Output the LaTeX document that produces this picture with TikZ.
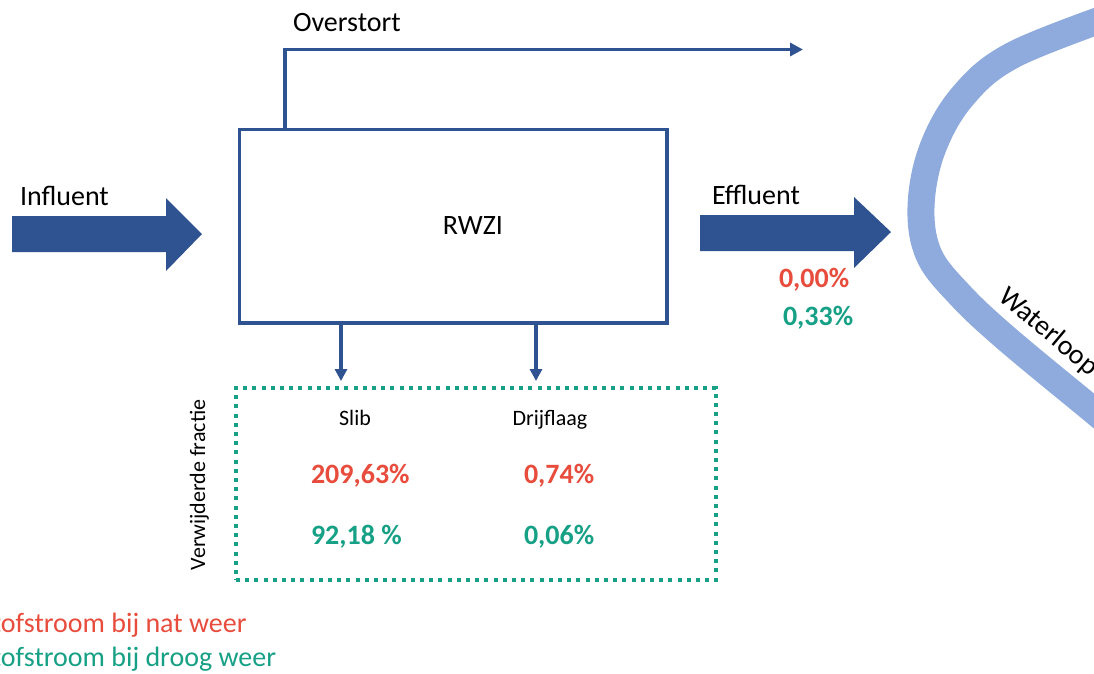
\documentclass[tikz,border=0pt]{standalone}
\usepackage{fontspec}
\setmainfont{Carlito}
\usetikzlibrary{arrows.meta}
\definecolor{navy}{HTML}{2F5290}
\definecolor{river}{HTML}{8FAADC}
\definecolor{wetred}{HTML}{E74C3C}
\definecolor{drygreen}{HTML}{16A085}
\begin{document}
\begin{tikzpicture}[x=1pt,y=-1pt,
  lbl/.style={font=\fontsize{28}{32}\selectfont, inner sep=0pt, outer sep=0pt},
  smalllbl/.style={font=\fontsize{22}{26}\selectfont, inner sep=0pt, outer sep=0pt},
  pct/.style={font=\fontsize{28}{32}\selectfont\bfseries, inner sep=0pt, outer sep=0pt},
  conn/.style={draw=navy, line width=3.75pt, -{Triangle[length=12pt,width=12pt]}},
  bigarrow/.style={fill=navy},
  plantbox/.style={draw=navy, line width=3.75pt, inner sep=0pt, outer sep=0pt,
    minimum width=427.5pt, minimum height=193.5pt},
  fracbox/.style={draw=drygreen, line width=4pt, dash pattern=on 4pt off 5.2pt,
    inner sep=0pt, outer sep=0pt, minimum width=480pt, minimum height=192pt},
]
\path[use as bounding box] (0,0) rectangle (1094,673);
\clip (0,0) rectangle (1094,673);

% river
\draw[river, line width=27pt] plot[smooth, tension=0.6] coordinates
  {(1120,13) (1013,55) (962,97) (932,150) (921,207) (929,255) (960,295) (1007,339) (1094,411) (1125,437)};
\node[lbl, rotate=-40, anchor=base west] (waterloop) at (997,299) {Waterloop};

% big arrows
\fill[bigarrow] (12,216) -- (166,216) -- (166,198) -- (202,234) -- (166,271) -- (166,252) -- (12,252) -- cycle;
\fill[bigarrow] (700,215) -- (854,215) -- (854,197) -- (891,232) -- (854,268) -- (854,251) -- (700,251) -- cycle;
\node[lbl, anchor=base west] (influent) at (20,205) {Influent};
\node[lbl, anchor=base west] (effluent) at (712,204) {Effluent};

% plant
\node[plantbox] (rwzi) at (453.25,226.25) {};
\node[lbl] (rwzitext) at (473,226) {RWZI};

% overstort
\coordinate (ovend) at (803,49.5);
\draw[conn, -{Triangle[length=13pt,width=13pt]}] ([xshift=45.5pt]rwzi.north west) |- (ovend);
\node[lbl, anchor=base west] (overstort) at (293,31) {Overstort};

% effluent fractions
\node[pct, text=wetred, anchor=base west] (effwet) at (779,287) {0,00\%};
\node[pct, text=drygreen, anchor=base west] (effdry) at (783,325) {0,33\%};

% removed fraction box
\node[fracbox] (frac) at (476,484) {};
\coordinate (slibin) at (341,381);
\coordinate (drijfin) at (536,381);
\draw[conn] (rwzi.south -| slibin) -- (slibin);
\draw[conn] (rwzi.south -| drijfin) -- (drijfin);
\node[smalllbl, rotate=90, anchor=base] (verw) at (205,485) {Verwijderde fractie};
\node[smalllbl, anchor=base] (slib) at (355,425) {Slib};
\node[smalllbl, anchor=base] (drijf) at (550,425) {Drijflaag};
\node[pct, text=wetred, anchor=base west] (slibwet) at (311,483) {209,63\%};
\node[pct, text=drygreen, anchor=base west] (slibdry) at (311,544) {92,18 \%};
\node[pct, text=wetred, anchor=base west] (drijfwet) at (524,483) {0,74\%};
\node[pct, text=drygreen, anchor=base west] (drijfdry) at (524,544) {0,06\%};

% legend
\node[lbl, text=wetred, anchor=base west] (legwet) at (-21,632) {Stofstroom bij nat weer};
\node[lbl, text=drygreen, anchor=base west] (legdry) at (-21,666) {Stofstroom bij droog weer};
\end{tikzpicture}
\end{document}
